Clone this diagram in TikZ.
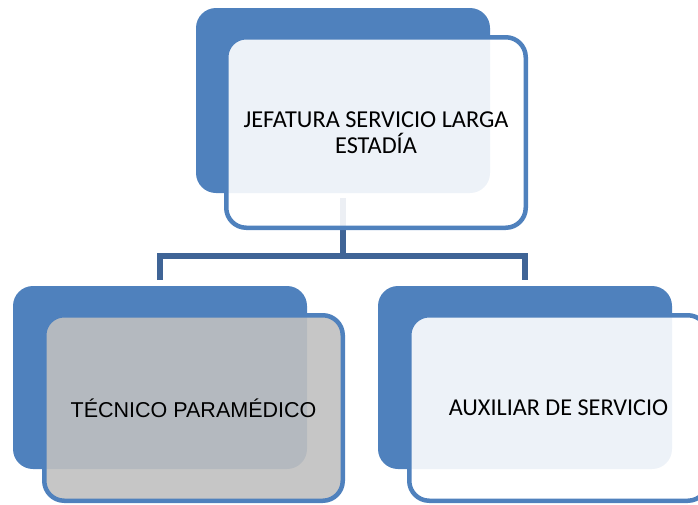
\documentclass[tikz,border=0pt]{standalone}
\usepackage{fontspec}
\setmainfont{Carlito}
\newfontfamily\arialfont{Liberation Sans}
\definecolor{accblue}{RGB}{79,129,189}
\definecolor{connblue}{RGB}{63,100,150}
\definecolor{boxgray}{RGB}{192,192,192}
\begin{document}
\begin{tikzpicture}[x=1pt,y=-1pt,
  backbox/.style={rectangle, rounded corners=20pt, fill=accblue, draw=none,
    minimum width=294pt, minimum height=184pt, inner sep=0pt},
  frontbox/.style={rectangle, rounded corners=20pt, draw=accblue, line width=4.5pt,
    fill=white, fill opacity=0.9, text opacity=1, text=black,
    minimum width=299pt, minimum height=187pt, inner sep=0pt, align=center},
  conn/.style={draw=connblue, line width=6pt}]
\useasboundingbox (0,0) rectangle (698,504);
% back boxes
\node[backbox, minimum height=185pt] (tb) at (343,100.5) {};
\node[backbox, minimum height=183pt] (lb) at (160,377.5) {};
\node[backbox, minimum height=183pt] (rb) at (525,377.5) {};
% connectors
\coordinate (j) at (343,255.5);
\draw[conn] ([yshift=-5pt]tb.south) -- (j);
\draw[conn] ([yshift=6pt]lb.north) |- (j) -| ([yshift=6pt]rb.north);
% front boxes
\node[frontbox, minimum width=299.5pt, minimum height=190.5pt,
  font=\fontsize{24.3pt}{26.5pt}\selectfont] (tf) at (376,132.5)
  {JEFATURA SERVICIO LARGA\\ESTADÍA};
\node[frontbox, fill=boxgray, minimum width=298.5pt, minimum height=185.5pt,
  font=\arialfont\fontsize{21.5pt}{25pt}\selectfont] (lf) at (193.5,408)
  {TÉCNICO PARAMÉDICO};
\node[frontbox, minimum width=298.5pt, minimum height=185.5pt,
  font=\fontsize{24.2pt}{26.5pt}\selectfont] (rf) at (558.5,408)
  {AUXILIAR DE SERVICIO};
\end{tikzpicture}
\end{document}
